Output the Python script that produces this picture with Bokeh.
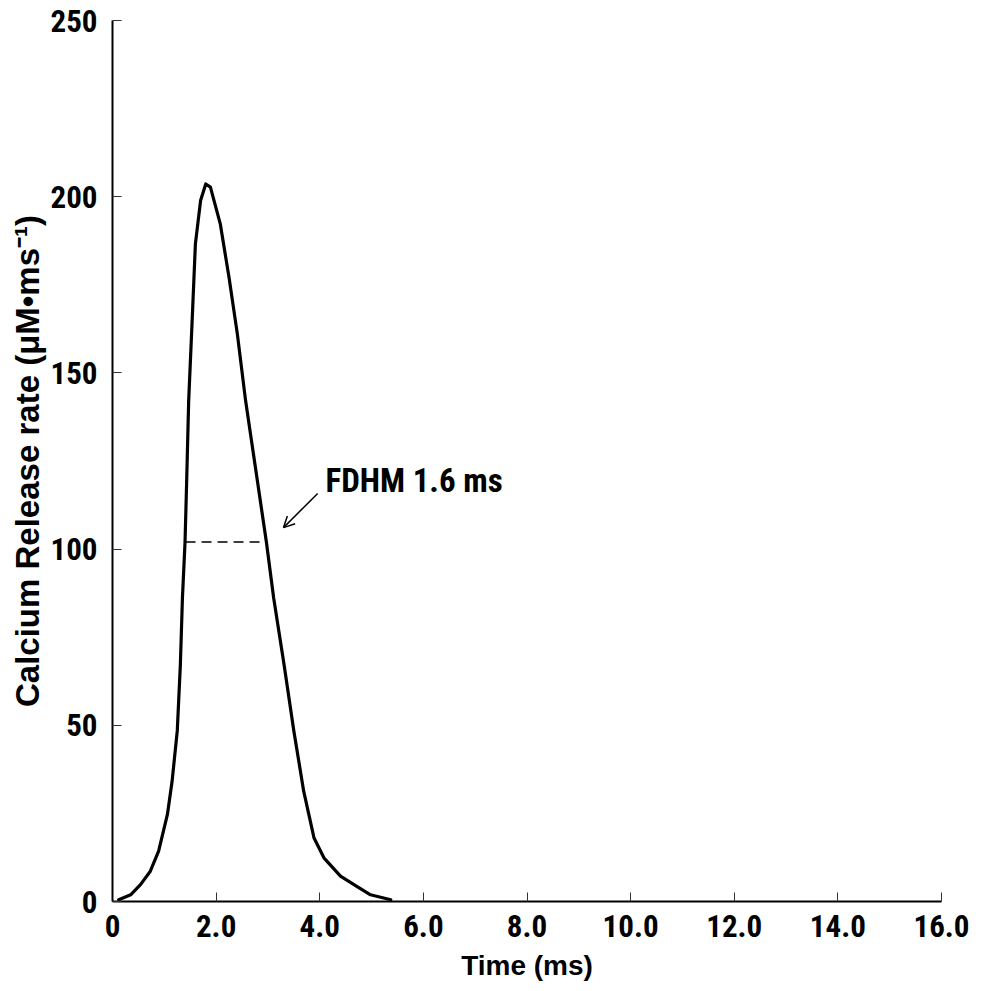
from bokeh.plotting import figure
from bokeh.models import FixedTicker, Range1d, Arrow, OpenHead
from bokeh.core.properties import value
from bokeh.embed import file_html
from bokeh.resources import INLINE

# Calcium release rate trace
time_ms = [0.12, 0.35, 0.54, 0.73, 0.89, 1.06, 1.15, 1.25, 1.31, 1.35, 1.40, 1.43,
           1.47, 1.54, 1.60, 1.70, 1.80, 1.89, 2.08, 2.25, 2.41, 2.57, 2.76, 2.97,
           3.11, 3.31, 3.50, 3.69, 3.89, 4.08, 4.40, 4.66, 4.98, 5.37]
release_rate = [0.5, 1.9, 4.8, 8.6, 14.3, 24.7, 34.1, 48.4, 67.3, 86.2, 102.0, 118.4,
                142.0, 165.8, 186.6, 198.9, 203.6, 202.7, 192.3, 177.0, 161.0, 142.0, 123.0, 102.0,
                86.2, 67.3, 48.4, 31.3, 18.0, 12.4, 7.2, 4.8, 1.9, 0.5]

# FDHM marker
fdhm_level = 102.0
fdhm_x = [1.41, 2.97]
fdhm_label = "FDHM 1.6 ms"
label_pos = (4.11, 119.5)
arrow_start = (3.96, 115.8)
arrow_end = (3.30, 106.1)

x_ticks = [0, 2, 4, 6, 8, 10, 12, 14, 16]
x_tick_labels = ["0", "2.0", "4.0", "6.0", "8.0", "10.0", "12.0", "14.0", "16.0"]
y_ticks = [0, 50, 100, 150, 200, 250]
y_tick_labels = ["0", "50", "100", "150", "200", "250"]

BOLD = "Liberation Sans"
COND = "Roboto Condensed"

p = figure(frame_width=829, frame_height=881, output_backend="svg", toolbar_location=None,
           x_range=Range1d(0, 16), y_range=Range1d(0, 250),
           min_border_left=112, min_border_right=35, min_border_top=20, min_border_bottom=90)
p.background_fill_color = "white"
p.border_fill_color = "white"
p.outline_line_color = None
p.xgrid.grid_line_color = None
p.ygrid.grid_line_color = None

p.xaxis.ticker = FixedTicker(ticks=x_ticks)
p.xaxis.major_label_overrides = {t: l for t, l in zip(x_ticks, x_tick_labels)}
p.yaxis.ticker = FixedTicker(ticks=y_ticks)
p.yaxis.major_label_overrides = {t: l for t, l in zip(y_ticks, y_tick_labels)}

for ax in (p.xaxis, p.yaxis):
    ax.axis_line_width = 2
    ax.axis_line_color = "black"
    ax.major_tick_in = 9
    ax.major_tick_out = 0
    ax.major_tick_line_color = "#333333"
    ax.major_tick_line_width = 1
    ax.minor_tick_line_color = None
    ax.major_label_text_font = COND
    ax.major_label_text_font_style = "bold"
    ax.major_label_text_font_size = "31px"
    ax.major_label_text_color = "black"
    ax.axis_label_text_font = BOLD
    ax.axis_label_text_font_style = "bold"
    ax.axis_label_text_color = "black"

p.xaxis.axis_label = "Time (ms)"
p.xaxis.axis_label_text_font_size = "28px"
p.xaxis.major_label_standoff = 13
p.xaxis.axis_label_standoff = 10

p.yaxis.axis_label = "Calcium Release rate (\u03bcM\u2022ms\u207b\u00b9)"
p.yaxis.axis_label_text_font_size = "33px"
p.yaxis.major_label_standoff = 15
p.yaxis.axis_label_standoff = 2

p.line(time_ms, release_rate, line_color="black", line_width=3.2, line_join="round", line_cap="round")
p.line(fdhm_x, [fdhm_level, fdhm_level], line_color="black", line_width=1.6, line_dash="10 6")

p.add_layout(Arrow(end=OpenHead(size=11, line_width=1.5, line_color="black"),
                   x_start=arrow_start[0], y_start=arrow_start[1],
                   x_end=arrow_end[0], y_end=arrow_end[1],
                   line_width=1.5, line_color="black"))

p.text(x=[label_pos[0]], y=[label_pos[1]], text=[fdhm_label],
       text_font=value(COND), text_font_style="bold", text_font_size="33px",
       text_align="left", text_baseline="alphabetic", text_color="black")

open("out.html", "w").write(file_html(p, INLINE))
